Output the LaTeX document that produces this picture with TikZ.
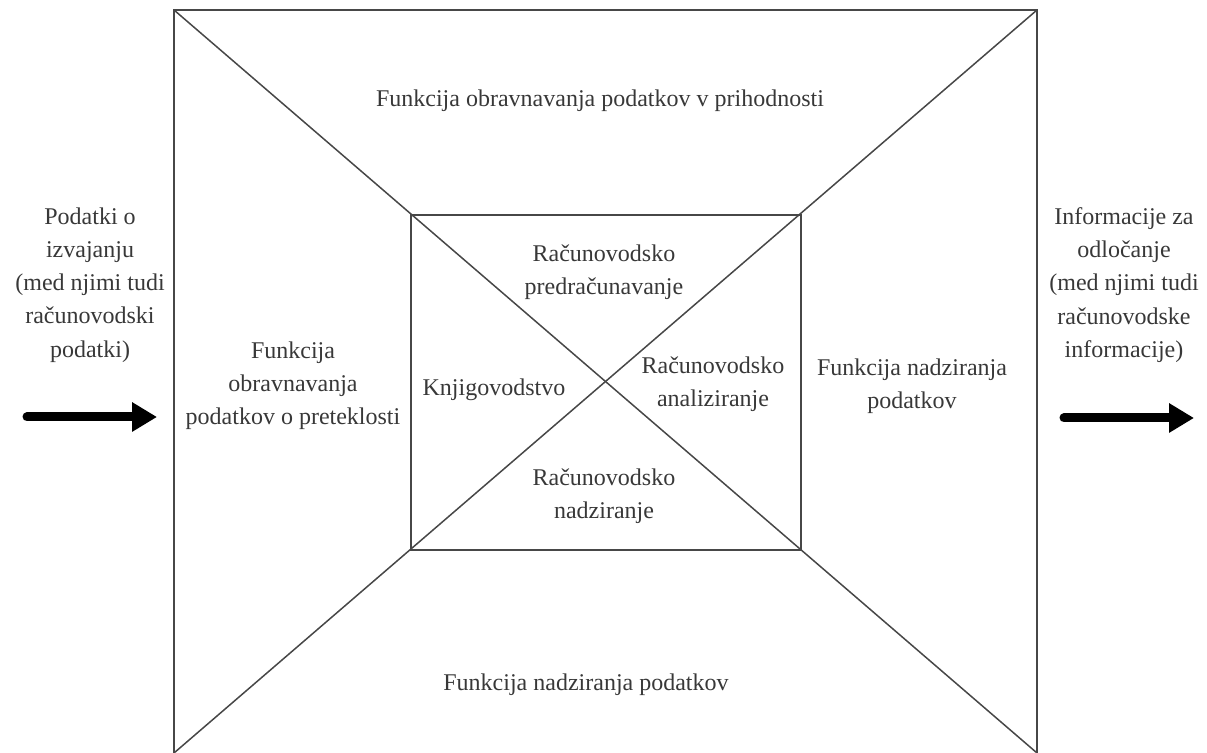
\documentclass[tikz,border=0pt]{standalone}
\usepackage{fontspec}
\setmainfont{Liberation Serif}
\usetikzlibrary{positioning, arrows.meta}

\begin{document}
\begin{tikzpicture}[x=0.5pt, y=-0.5pt, node distance={15mm},
  txt/.style = {align=center, text=black!78, inner sep=0pt, font=\fontsize{12}{16.6}\selectfont},
  frame/.style = {draw=black!72, line width=1pt},
  cut/.style = {draw=black!72, line width=0.75pt},
  flow/.style = {line width=4.5pt, line cap=round, -{Triangle[length=12.5pt, width=14pt]}}]
\useasboundingbox (0,0) rectangle (1207,753);

\coordinate (otl) at (174,10);
\coordinate (otr) at (1037,10);
\coordinate (obl) at (174,753);
\coordinate (obr) at (1037,753);
\coordinate (itl) at (411,215);
\coordinate (itr) at (801,215);
\coordinate (ibl) at (411,550);
\coordinate (ibr) at (801,550);

\draw[frame] (obl) -- (otl) -- (otr) -- (obr);
\draw[frame] (itl) rectangle (ibr);
\draw[cut] (otl) -- (obr);
\draw[cut] (otr) -- (obl);

\node[txt] (fut) at (600,101) {Funkcija obravnavanja podatkov v prihodnosti};
\node[txt] (ctl) at (586,685) {Funkcija nadziranja podatkov};
\node[txt] (past) at (293,386) {Funkcija\\obravnavanja\\podatkov o preteklosti};
\node[txt] (mon) at (912,386) {Funkcija nadziranja\\podatkov};

\node[txt] (pre) at (604,272) {Računovodsko\\predračunavanje};
\node[txt] (knj) at (494,390) {Knjigovodstvo};
\node[txt] (ana) at (713,384) {Računovodsko\\analiziranje};
\node[txt] (nad) at (604,496) {Računovodsko\\nadziranje};

\node[txt] (in) at (90,285) {Podatki o\\izvajanju\\(med njimi tudi\\računovodski\\podatki)};
\node[txt] (out) at (1124,285) {Informacije za\\odločanje\\(med njimi tudi\\računovodske\\informacije)};

\coordinate (in1) at (27,417);
\coordinate (in2) at (157,417);
\coordinate (out1) at (1064,418);
\coordinate (out2) at (1194,418);
\draw[flow] (in1) -- (in2);
\draw[flow] (out1) -- (out2);

\end{tikzpicture}
\end{document}
